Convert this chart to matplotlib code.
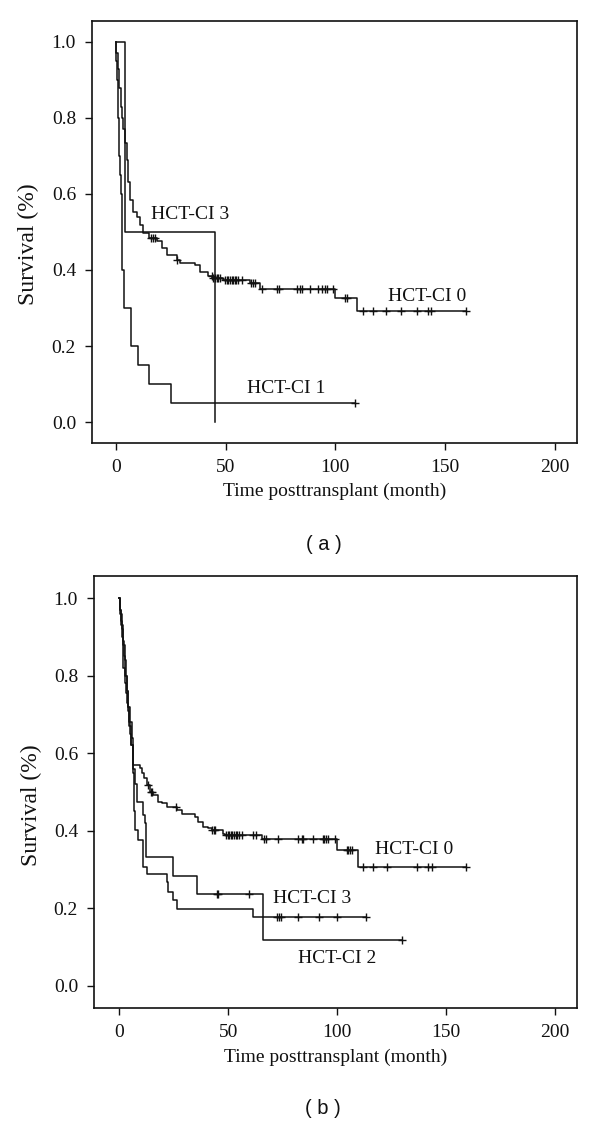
import numpy as np
import matplotlib
matplotlib.use('Agg')
import matplotlib.pyplot as plt

plt.rcParams['font.family'] = ['Liberation Serif', 'DejaVu Serif']

# ---- panel (a) ----
# HCT-CI 0
a0_t = [0, 0.15, 0.9, 1.6, 2.1, 2.7, 3.2, 4.1, 4.86, 5.62, 6.38, 7.9, 9.4, 11.0,
        12.5, 15.0, 18.6, 20.8, 23.1, 27.7, 29.2, 36.0, 38.3, 42.1, 44.0, 48.9,
        61.1, 65.6, 99.8, 109.7]
a0_s = [1.0, 0.97, 0.93, 0.88, 0.83, 0.80, 0.77, 0.734, 0.69, 0.632, 0.584, 0.553,
        0.540, 0.518, 0.497, 0.484, 0.475, 0.457, 0.440, 0.426, 0.418, 0.413,
        0.396, 0.383, 0.378, 0.374, 0.365, 0.349, 0.326, 0.293]
a0_c = [16.1, 16.9, 17.6, 28.0, 43.6, 44.4, 45.1, 45.9, 46.6, 47.4, 49.7, 50.4,
        51.2, 51.9, 52.7, 53.4, 54.2, 54.9, 55.7, 57.5, 61.6, 62.6, 63.4, 66.8,
        73.2, 74.4, 82.3, 83.8, 85.0, 88.4, 92.2, 93.7, 95.2, 96.0, 99.0, 104.4,
        105.4, 112.4, 117.0, 123.0, 129.9, 137.0, 142.3, 143.8, 159.5]
# HCT-CI 1
a1_t = [0, 0.15, 0.5, 0.8, 1.0, 1.2, 1.4, 1.7, 2.4, 3.0, 3.8, 7.1, 10.2, 15.2, 25.3]
a1_s = [1.0, 0.95, 0.90, 0.85, 0.80, 0.75, 0.70, 0.65, 0.60, 0.40, 0.30, 0.20,
        0.15, 0.10, 0.05]
a1_c = [109.0]
# HCT-CI 3
a3_t = [0, 4.1, 45.1]
a3_s = [1.0, 0.5, 0.0]
a3_c = []

# ---- panel (b) ----
# HCT-CI 0
b0_t = [0, 0.3, 0.8, 1.2, 1.6, 2.0, 2.6, 3.0, 3.5, 4.0, 4.6, 5.0, 5.6, 6.57, 9.63,
        10.4, 11.5, 12.7, 14.2, 15.7, 18.0, 19.6, 21.9, 26.5, 28.8, 34.9, 36.4,
        38.7, 41.0, 42.5, 47.9, 48.6, 65.4, 99.8, 109.8]
b0_s = [1.0, 0.97, 0.94, 0.90, 0.86, 0.82, 0.78, 0.755, 0.73, 0.71, 0.68, 0.65,
        0.62, 0.570, 0.561, 0.548, 0.535, 0.518, 0.501, 0.492, 0.475, 0.471,
        0.462, 0.454, 0.443, 0.436, 0.423, 0.411, 0.406, 0.402, 0.393, 0.389,
        0.379, 0.350, 0.306]
b0_c = [13.4, 14.6, 15.3, 26.0, 42.8, 43.5, 44.2, 49.0, 49.8, 50.5, 51.3, 52.0,
        52.8, 53.5, 54.3, 55.0, 56.6, 61.6, 62.7, 66.7, 67.4, 73.1, 82.3, 83.8,
        84.5, 88.8, 93.4, 94.2, 95.0, 95.7, 99.1, 104.4, 105.2, 105.9, 106.7,
        111.8, 116.7, 122.8, 136.8, 141.9, 143.4, 159.2]
# HCT-CI 2
b2_t = [0, 0.5, 1.2, 1.8, 2.5, 3.0, 3.6, 4.2, 5.0, 5.8, 6.5, 7.2, 8.1, 11.1,
        11.8, 12.4, 24.6, 35.9, 65.9]
b2_s = [1.0, 0.96, 0.92, 0.88, 0.84, 0.80, 0.76, 0.72, 0.68, 0.64, 0.56, 0.52,
        0.475, 0.44, 0.42, 0.333, 0.284, 0.237, 0.118]
b2_c = [44.8, 45.6, 59.8, 130.0]
# HCT-CI 3
b3_t = [0, 0.5, 1.0, 1.6, 2.2, 2.9, 3.5, 4.0, 4.7, 5.5, 6.4, 6.8, 7.3, 8.9, 10.9,
        12.6, 21.9, 22.6, 24.6, 26.4, 61.6]
b3_s = [1.0, 0.97, 0.93, 0.89, 0.85, 0.80, 0.76, 0.72, 0.67, 0.62, 0.55, 0.45,
        0.402, 0.376, 0.307, 0.289, 0.269, 0.243, 0.222, 0.198, 0.177]
b3_c = [72.3, 73.5, 74.3, 81.9, 91.8, 99.8, 113.3]


def km(ax, t, s, c):
    t = np.asarray(t, float)
    s = np.asarray(s, float)
    tt, ss = t, s
    if len(c) and max(c) > t[-1]:
        tt = np.append(t, max(c))
        ss = np.append(s, s[-1])
    ax.step(tt, ss, where='post', color='#111111', lw=1.1)
    if len(c):
        c = np.asarray(c, float)
        idx = np.searchsorted(t, c, side='right') - 1
        ax.plot(c, s[idx], ls='none', marker='+', color='#111111',
                markersize=6, mew=1.0)


def style(ax, xlim, ylim):
    ax.set_xlim(*xlim)
    ax.set_ylim(*ylim)
    ax.set_xticks([0, 50, 100, 150, 200])
    ax.set_yticks([0.0, 0.2, 0.4, 0.6, 0.8, 1.0])
    ax.set_yticklabels(['0.0', '0.2', '0.4', '0.6', '0.8', '1.0'])
    ax.tick_params(direction='out', length=5, width=1.0, pad=6.5, labelsize=14,
                   color='#111111', labelcolor='#111111')
    for sp in ax.spines.values():
        sp.set_linewidth(1.2)
        sp.set_color('#111111')
    ax.set_xlabel('Time posttransplant (month)', fontsize=14, color='#111111')
    ax.set_ylabel('Survival (%)', fontsize=17, color='#111111')
    ax.xaxis.set_label_coords(0.5, -0.115)
    ax.xaxis.label.set_va('center')
    ax.yaxis.set_label_coords(-0.13, 0.47)
    ax.yaxis.label.set_va('center')


fig = plt.figure(figsize=(6, 11.22), dpi=100)

ax1 = fig.add_axes([0.1533, 0.6052, 0.8083, 0.3761])
km(ax1, a0_t, a0_s, a0_c)
km(ax1, a1_t, a1_s, a1_c)
km(ax1, a3_t, a3_s, a3_c)
style(ax1, (-10.9, 210.1), (-0.055, 1.055))
ax1.text(16.2, 0.545, 'HCT-CI 3', fontsize=14, va='center', color='#111111')
ax1.text(124, 0.33, 'HCT-CI 0', fontsize=14, va='center', color='#111111')
ax1.text(59.6, 0.088, 'HCT-CI 1', fontsize=14, va='center', color='#111111')

ax2 = fig.add_axes([0.1567, 0.1016, 0.805, 0.385])
km(ax2, b0_t, b0_s, b0_c)
km(ax2, b2_t, b2_s, b2_c)
km(ax2, b3_t, b3_s, b3_c)
style(ax2, (-11.5, 210.1), (-0.057, 1.057))
ax2.text(117.4, 0.352, 'HCT-CI 0', fontsize=14, va='center', color='#111111')
ax2.text(70.5, 0.226, 'HCT-CI 3', fontsize=14, va='center', color='#111111')
ax2.text(82.2, 0.071, 'HCT-CI 2', fontsize=14, va='center', color='#111111')

fig.text(0.54, 1 - 545 / 1122, '( a )', fontsize=14.5, ha='center', va='center',
         family=['Liberation Sans', 'DejaVu Sans'], color='#111111')
fig.text(0.538, 1 - 1108 / 1122, '( b )', fontsize=14.5, ha='center', va='center',
         family=['Liberation Sans', 'DejaVu Sans'], color='#111111')

fig.savefig('out.png', dpi=100, facecolor='white')
